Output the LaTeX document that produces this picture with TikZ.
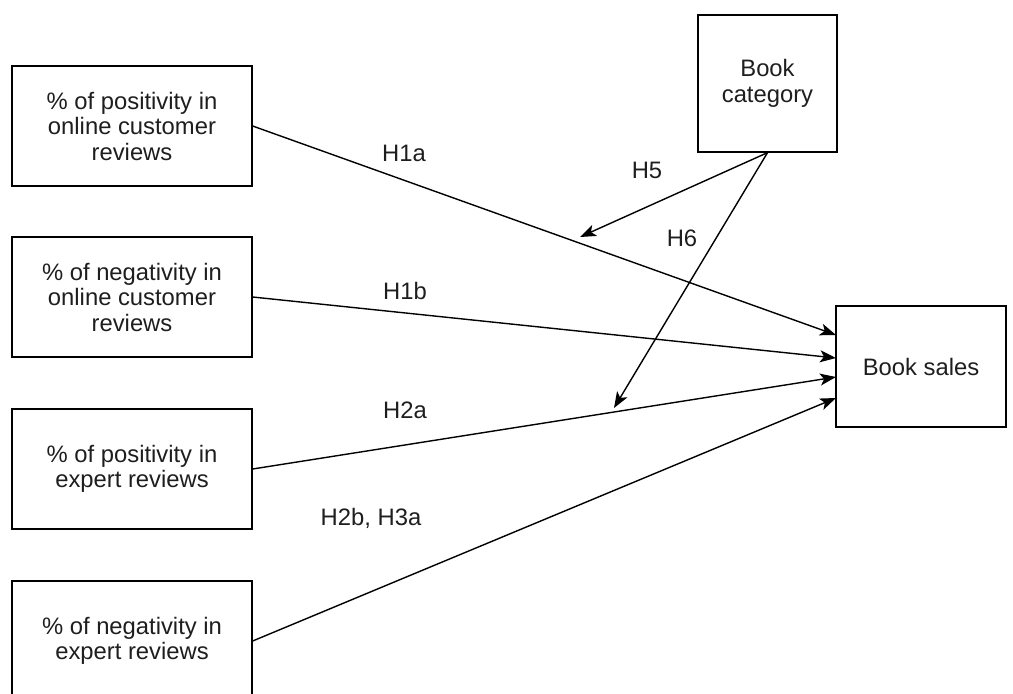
\documentclass[tikz,border=0pt]{standalone}
\usepackage{fontspec}
\setmainfont{Liberation Sans}
\usetikzlibrary{arrows.meta}
\definecolor{txt}{RGB}{30,30,30}
\tikzset{
  box/.style={draw=black, line width=1.3pt, align=center, text=txt,
    inner sep=0pt, font=\fontsize{23.8}{25.5}\selectfont},
  lbl/.style={text=txt, inner sep=0pt, font=\fontsize{23.8}{25.5}\selectfont},
  arr/.style={draw=black, line width=1.4pt, -{Stealth[length=16pt,width=12pt,inset=4pt]}},
}
\begin{document}
\begin{tikzpicture}[x=1pt,y=-1pt]
\useasboundingbox (0,0) rectangle (1013,694);
\clip (0,0) rectangle (1013,694);
\node[box, minimum width=240pt, minimum height=120pt] (b1) at (132,126) {\% of positivity in\\online customer\\reviews};
\node[box, minimum width=240pt, minimum height=120pt] (b2) at (132,297) {\% of negativity in\\online customer\\reviews};
\node[box, minimum width=240pt, minimum height=120pt] (b3) at (132,469) {\% of positivity in\\expert reviews};
\node[box, minimum width=240pt, minimum height=120pt] (b4) at (132,641) {\% of negativity in\\expert reviews};
\node[box, minimum width=139pt, minimum height=137pt] (bc) at (767.5,83.5) {Book\\category};
\node[box, minimum width=170pt, minimum height=121pt] (bs) at (921,366.5) {Book sales};

\coordinate (t1) at (836,335);
\coordinate (t2) at (836,358);
\coordinate (t3) at (836,377);
\coordinate (t4) at (836,398);
\coordinate (t5) at (580,237);
\coordinate (t6) at (614,408);

\draw[arr] (b1.east) -- (t1);
\draw[arr] (b2.east) -- (t2);
\draw[arr] (b3.east) -- (t3);
\draw[arr] (b4.east) -- (t4);
\draw[arr] (bc.south) -- (t5);
\draw[arr] (bc.south) -- (t6);

\node[lbl] (l1) at (404,153) {H1a};
\node[lbl] (l2) at (405,291) {H1b};
\node[lbl] (l3) at (405,410) {H2a};
\node[lbl] (l4) at (371,518) {H2b, H3a};
\node[lbl] (l5) at (647,170) {H5};
\node[lbl] (l6) at (682,238) {H6};
\end{tikzpicture}
\end{document}
